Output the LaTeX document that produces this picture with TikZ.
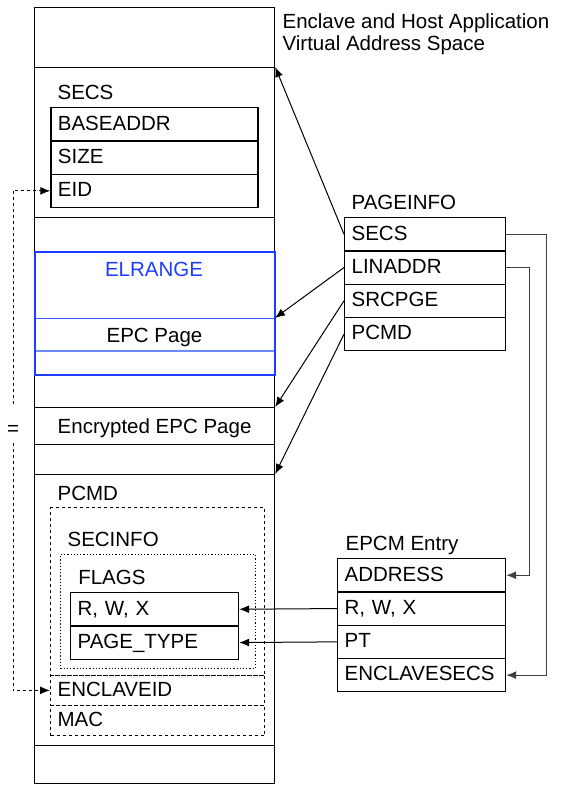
\documentclass[tikz,border=0pt]{standalone}
\usepackage{fontspec}
\setmainfont{Liberation Sans}
\usetikzlibrary{arrows.meta}
\definecolor{elblue}{RGB}{30,60,255}
\definecolor{eplight}{RGB}{110,140,255}
\begin{document}
\begin{tikzpicture}[x=1pt,y=-1pt,line width=1.2pt,
  font=\fontsize{20.5pt}{22pt}\selectfont,
  cell/.style={draw,anchor=north west,minimum width=240pt,inner sep=0pt,text height=15pt,text depth=0pt},
  field/.style={draw,anchor=north west,inner xsep=7pt,inner ysep=0pt,minimum height=33.3pt,text height=15pt,text depth=3.5pt,align=left},
  lbl/.style={anchor=west,inner sep=0pt,text height=15pt,text depth=0pt},
  arr/.style={-{Latex[length=10pt,width=8pt]}}]
\useasboundingbox (0,0) rectangle (561,785);
% address space column
\node[cell,minimum height=60pt] (top) at (34,7) {};
\node[cell,minimum height=150pt] (secsCell) at (34,67) {};
\node[cell,minimum height=158pt] (gapCell) at (34,217) {};
\node[cell,minimum height=32pt] (freeA) at (34,375) {};
\node[cell,minimum height=37pt] (encCell) at (34,407) {Encrypted EPC Page};
\node[cell,minimum height=30pt] (freeB) at (34,444) {};
\node[cell,minimum height=271pt] (pcmdCell) at (34,474) {};
\node[cell,minimum height=38pt] (bottom) at (34,745) {};
\node[anchor=north west,inner sep=0pt,align=left] (vasLbl) at (282,13.5) {Enclave and Host Application\\Virtual Address Space};
% SECS
\node[lbl] (secsLbl) at (57,92) {SECS};
\node[field,text width=193pt] (baseaddr) at (50.3,107) {BASEADDR};
\node[field,text width=193pt] (size) at (50.3,140.3) {SIZE};
\node[field,text width=193pt] (eid) at (50.3,173.6) {EID};
% ELRANGE
\node[cell,draw=elblue!85,line width=1pt,minimum height=33pt] (epcPage) at (34,318) {EPC Page};
\draw[eplight] (34,351) -- (274,351);
\node[cell,draw=elblue,line width=2pt,minimum height=123pt] (elrange) at (34,251) {};
\node[lbl,anchor=center,text=elblue] (elLbl) at (154,269) {ELRANGE};
% PCMD
\node[lbl] (pcmdLbl) at (57,493) {PCMD};
\node[draw,dashed,anchor=north west,minimum width=214pt,minimum height=168pt] (pcmdBox) at (50,507) {};
\node[lbl] (secinfoLbl) at (67,539) {SECINFO};
\node[draw,dotted,anchor=north west,minimum width=195pt,minimum height=114pt] (secinfoBox) at (60,554) {};
\node[lbl] (flagsLbl) at (77.7,577) {FLAGS};
\node[field,text width=154pt] (fRwx) at (70,592) {R, W, X};
\node[field,text width=154pt] (fType) at (70,625.3) {PAGE\_TYPE};
\node[field,dashed,text width=200pt,minimum height=29.5pt] (encId) at (50,675) {ENCLAVEID};
\node[field,dashed,text width=200pt,minimum height=30.5pt] (mac) at (50,704.5) {MAC};
% PAGEINFO
\node[lbl] (pageinfoLbl) at (351,202) {PAGEINFO};
\node[field,text width=147pt] (pSecs) at (344,217) {SECS};
\node[field,text width=147pt] (pLinaddr) at (344,250.3) {LINADDR};
\node[field,text width=147pt] (pSrcpge) at (344,283.6) {SRCPGE};
\node[field,text width=147pt] (pPcmd) at (344,316.9) {PCMD};
% EPCM
\node[lbl] (epcmLbl) at (345,542.5) {EPCM Entry};
\node[field,text width=154pt] (eAddress) at (337,558) {ADDRESS};
\node[field,text width=154pt] (eRwx) at (337,591.3) {R, W, X};
\node[field,text width=154pt] (ePt) at (337,624.6) {PT};
\node[field,text width=154pt] (eSecs) at (337,657.9) {ENCLAVESECS};
% connectors
\draw[arr,line width=1pt] (pSecs.west) -- (secsCell.north east);
\draw[arr,line width=1pt] (pLinaddr.west) -- (epcPage.north east);
\draw[arr,line width=1pt] (pSrcpge.west) -- (encCell.north east);
\draw[arr,line width=1pt] (pPcmd.west) -- (pcmdCell.north east);
\draw[arr,black!75] (pSecs.east) -- ++(40,0) |- (eSecs.east);
\draw[arr,black!75] (pLinaddr.east) -- ++(23,0) |- (eAddress.east);
\draw[arr,line width=1pt] (eRwx.west) -- (fRwx.east);
\draw[arr,line width=1pt] (ePt.west) -- (fType.east);
\node[inner sep=0pt,minimum height=37pt,text height=23.6pt,text depth=0pt] (eq) at (13,423.5) {=};
\draw[arr,dashed,line width=1pt] (eq.north) |- (eid.west);
\draw[arr,dashed,line width=1pt] (eq.south) |- (encId.west);
\end{tikzpicture}
\end{document}
